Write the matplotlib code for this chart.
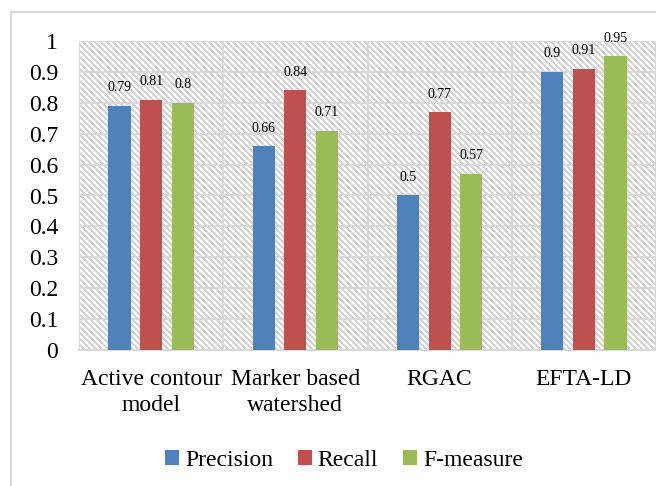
import matplotlib
matplotlib.use("Agg")
import matplotlib.pyplot as plt
import numpy as np
from matplotlib.collections import LineCollection
from matplotlib.patches import Rectangle

methods = ["Active contour\nmodel", "Marker based\nwatershed", "RGAC", "EFTA-LD"]
precision = [0.79, 0.66, 0.5, 0.9]
recall = [0.81, 0.84, 0.77, 0.91]
f_measure = [0.8, 0.71, 0.57, 0.95]
series = [("Precision", precision, "#4F81BD"),
          ("Recall", recall, "#C0504D"),
          ("F-measure", f_measure, "#9BBB59")]

plt.rcParams["font.family"] = ["Liberation Serif", "DejaVu Serif"]

W, H = 577, 309  # plot area size in pixels
fig = plt.figure(figsize=(6.56, 4.86), dpi=100)
ax = fig.add_axes([79 / 656, 1 - 350 / 486, W / 656, H / 486])

# outer frame of the chart area
fig.patches.append(Rectangle((11 / 656, -0.1), 1.2, 0.1 + (1 - 12 / 486),
                             transform=fig.transFigure, fill=False,
                             edgecolor="#d9d9d9", linewidth=1.5))

# diagonal stripe pattern behind the plot
starts = np.arange(-H, W + 6, 6)
segs = [[(s / W, 1), ((s + H) / W, 0)] for s in starts]
ax.add_collection(LineCollection(segs, transform=ax.transAxes, colors="#d4d4d4",
                                 linewidths=0.75, antialiaseds=False, zorder=0))

x = np.arange(len(methods))
width = 0.153
offsets = [-0.219, 0, 0.219]
for (name, vals, color), off in zip(series, offsets):
    bars = ax.bar(x + off, vals, width, color=color, label=name, zorder=3)
    for b, v in zip(bars, vals):
        ax.annotate(f"{v:g}", (b.get_x() + b.get_width() / 2, v),
                    xytext=(0, 13), textcoords="offset points",
                    ha="center", va="center", fontsize=10)

ax.set_xlim(-0.5, len(methods) - 0.5)
ax.set_ylim(0, 1)
ax.set_yticks(np.arange(0, 1.01, 0.1))
ax.set_yticklabels(["0", "0.1", "0.2", "0.3", "0.4", "0.5", "0.6", "0.7", "0.8", "0.9", "1"])
ax.set_xticks(x)
ax.set_xticklabels(methods, linespacing=1.3)
ax.tick_params(axis="both", length=0, labelsize=17)
ax.tick_params(axis="y", pad=15)
ax.tick_params(axis="x", pad=14)

ax.grid(axis="y", color="#d9d9d9", linewidth=1.5, zorder=1)
ax.set_axisbelow(True)
for xb in np.arange(-0.5, len(methods), 1.0):
    ax.axvline(xb, color="#d9d9d9", linewidth=1.5, zorder=1)
for side in ["top", "right", "left"]:
    ax.spines[side].set_visible(False)
ax.spines["bottom"].set_color("#d9d9d9")
ax.spines["bottom"].set_linewidth(1.5)

fig.legend(loc="center", bbox_to_anchor=(344 / 656, 1 - 460 / 486), ncol=3,
           frameon=False, fontsize=17, handlelength=0.6, handleheight=0.6,
           handletextpad=0.25, columnspacing=1.05)

fig.savefig("out.png", dpi=100)
